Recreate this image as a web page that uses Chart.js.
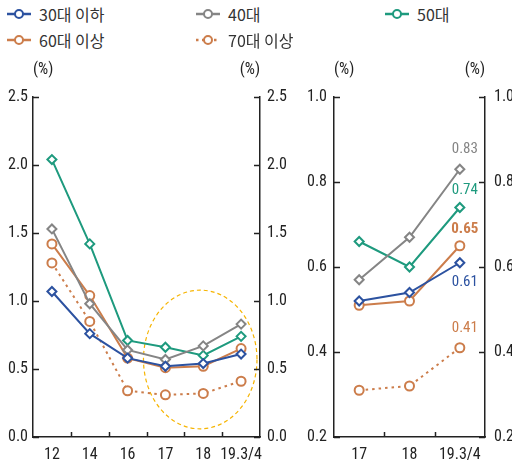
<!DOCTYPE html>
<html>
<head>
<meta charset="utf-8">
<script src="https://cdn.jsdelivr.net/npm/chart.js@4.4.1/dist/chart.umd.min.js"></script>
<style>
  body { margin: 0; background: #fff; width: 512px; height: 467px; position: relative; overflow: hidden; }
  #legend { position: absolute; left: 0; top: 0; width: 512px; height: 56px; font-family: "Noto Sans CJK KR", sans-serif; font-size: 16px; color: #333; }
  .item { position: absolute; display: flex; align-items: center; height: 20px; }
  .item canvas { margin-right: 8px; }
  .box { position: absolute; top: 0; height: 467px; }
</style>
</head>
<body>
<div id="legend"></div>
<div class="box" style="left:0;width:300px"><canvas id="leftChart"></canvas></div>
<div class="box" style="left:300px;width:212px"><canvas id="rightChart"></canvas></div>
<script>
// 연령대별 연체율 (%)
const seriesNames = ['30대 이하', '40대', '50대', '60대 이상', '70대 이상'];
const seriesColors = ['#2c52a0', '#858585', '#1e9a7e', '#cc7d4b', '#cc7d4b'];
const years = ['12', '14', '16', '17', '18', '19.3/4'];

const under30 = [1.07, 0.76, 0.58, 0.52, 0.54, 0.61];
const age40   = [1.53, 0.98, 0.64, 0.57, 0.67, 0.83];
const age50   = [2.04, 1.42, 0.71, 0.66, 0.60, 0.74];
const over60  = [1.42, 1.04, 0.58, 0.51, 0.52, 0.65];
const over70  = [1.28, 0.85, 0.34, 0.31, 0.32, 0.41];
const allSeries = [under30, age40, age50, over60, over70];

// 오른쪽 확대 구간 (17 ~ 19.3/4)
const zoomFrom = 3;
const zoomYears = years.slice(zoomFrom);

const leftTicks = [0, 2.5, 0.5];
const rightTicks = [0.2, 1.0, 0.2];

const axisColor = '#222';
const narrow = '"Liberation Sans Narrow", "Roboto Condensed", "Liberation Sans", sans-serif';
const tickFont = { family: narrow, size: 16 };

// 범례
const legendPos = [[7, 4], [196, 4], [385, 4], [7, 30], [196, 30]];
const legend = document.getElementById('legend');
seriesNames.forEach((name, i) => {
  const div = document.createElement('div');
  div.className = 'item';
  div.style.left = legendPos[i][0] + 'px';
  div.style.top = legendPos[i][1] + 'px';
  const c = document.createElement('canvas');
  c.width = 24; c.height = 20;
  const g = c.getContext('2d');
  g.strokeStyle = seriesColors[i];
  g.lineWidth = 2.5;
  if (i === 4) g.setLineDash([2.5, 3.5]);
  g.beginPath(); g.moveTo(0, 10); g.lineTo(24, 10); g.stroke();
  g.setLineDash([]);
  g.fillStyle = '#fff';
  g.lineWidth = 2;
  g.beginPath(); g.arc(12, 10, 4, 0, Math.PI * 2); g.fill(); g.stroke();
  div.appendChild(c);
  const span = document.createElement('span');
  span.textContent = name;
  div.appendChild(span);
  legend.appendChild(div);
});

function makeDatasets(from) {
  return allSeries.map((vals, i) => ({
    label: seriesNames[i],
    data: vals.slice(from),
    borderColor: seriesColors[i],
    borderWidth: 2,
    borderDash: i === 4 ? [2.5, 4] : [],
    pointStyle: i < 3 ? 'rectRot' : 'circle',
    pointRadius: 4.5,
    pointBorderWidth: 2,
    pointBackgroundColor: '#fff',
    pointBorderColor: seriesColors[i],
    tension: 0,
    yAxisID: 'y'
  }));
}

// 안쪽 눈금, (%) 표시
const axisDecor = {
  id: 'axisDecor',
  afterDraw(chart) {
    const { ctx, chartArea: a, scales } = chart;
    ctx.save();
    ctx.strokeStyle = axisColor;
    ctx.lineWidth = 1.5;
    const y = scales.y;
    y.ticks.forEach((t, i) => {
      const py = Math.round(y.getPixelForTick(i)) + 0.5;
      ctx.beginPath();
      ctx.moveTo(a.left, py); ctx.lineTo(a.left + 6, py);
      ctx.moveTo(a.right - 6, py); ctx.lineTo(a.right, py);
      ctx.stroke();
    });
    const x = scales.x;
    for (let i = 1; i < x.ticks.length; i++) {
      const px = Math.round(x.getPixelForValue(i - 0.5)) + 0.5;
      ctx.beginPath();
      ctx.moveTo(px, a.bottom); ctx.lineTo(px, a.bottom - 5);
      ctx.stroke();
    }
    ctx.fillStyle = axisColor;
    ctx.font = '16px ' + narrow;
    ctx.textBaseline = 'middle';
    ctx.textAlign = 'left';
    ctx.fillText('(%)', a.left, 70);
    ctx.textAlign = 'right';
    ctx.fillText('(%)', a.right, 70);
    ctx.restore();
  }
};

// 점선 타원 강조 (17 ~ 19.3/4 구간)
const highlight = {
  id: 'highlight',
  beforeDatasetsDraw(chart) {
    const { ctx, scales: { x, y } } = chart;
    const x0 = x.getPixelForValue(2.42), x1 = x.getPixelForValue(5.42);
    const y0 = y.getPixelForValue(1.08), y1 = y.getPixelForValue(0.06);
    ctx.save();
    ctx.strokeStyle = '#f6b400';
    ctx.lineWidth = 1.2;
    ctx.setLineDash([4, 3]);
    ctx.beginPath();
    ctx.ellipse((x0 + x1) / 2, (y0 + y1) / 2, (x1 - x0) / 2, (y1 - y0) / 2, 0, 0, Math.PI * 2);
    ctx.stroke();
    ctx.restore();
  }
};

// 마지막 값 라벨
const labelOffsets = [19, -20, -17, -17, -20];
const lastLabels = {
  id: 'lastLabels',
  afterDatasetsDraw(chart) {
    const { ctx } = chart;
    ctx.save();
    ctx.textAlign = 'center';
    ctx.textBaseline = 'middle';
    chart.data.datasets.forEach((ds, i) => {
      const meta = chart.getDatasetMeta(i);
      const pt = meta.data[meta.data.length - 1];
      const v = ds.data[ds.data.length - 1];
      ctx.fillStyle = seriesColors[i];
      ctx.font = (i === 3 ? 'bold ' : '') + '15px ' + narrow;
      ctx.fillText(v.toFixed(2), pt.x + 5, pt.y + labelOffsets[i]);
    });
    ctx.restore();
  }
};

function makeOptions(tickCfg, leftW, rightW, leftPad, rightPad) {
  const yScale = (pos, w, pad) => ({
    position: pos,
    min: tickCfg[0],
    max: tickCfg[1],
    afterFit: s => { s.width = w; },
    ticks: {
      stepSize: tickCfg[2],
      color: axisColor,
      font: tickFont,
      padding: pad,
      callback: v => Number(v).toFixed(1)
    },
    grid: { display: true, drawOnChartArea: false, drawTicks: false },
    border: { display: true, color: axisColor, width: 1.5 }
  });
  return {
    responsive: true,
    maintainAspectRatio: false,
    animation: false,
    layout: { padding: { top: 97, bottom: 0, left: 0, right: 0 } },
    plugins: { legend: { display: false }, tooltip: { enabled: false } },
    scales: {
      x: {
        offset: true,
        afterFit: s => { s.height = 30; },
        ticks: { color: axisColor, font: tickFont, padding: 8, maxRotation: 0, autoSkip: false },
        grid: { display: true, drawOnChartArea: false, drawTicks: false, offset: true },
        border: { display: true, color: axisColor, width: 1.5 }
      },
      y: yScale('left', leftW, leftPad),
      y2: yScale('right', rightW, rightPad)
    }
  };
}

new Chart(document.getElementById('leftChart'), {
  type: 'line',
  data: { labels: years, datasets: makeDatasets(0) },
  options: makeOptions(leftTicks, 33, 40, 5, 7),
  plugins: [axisDecor, highlight]
});

new Chart(document.getElementById('rightChart'), {
  type: 'line',
  data: { labels: zoomYears, datasets: makeDatasets(zoomFrom) },
  options: makeOptions(rightTicks, 34, 27, 7, 9),
  plugins: [axisDecor, lastLabels]
});
</script>
</body>
</html>
